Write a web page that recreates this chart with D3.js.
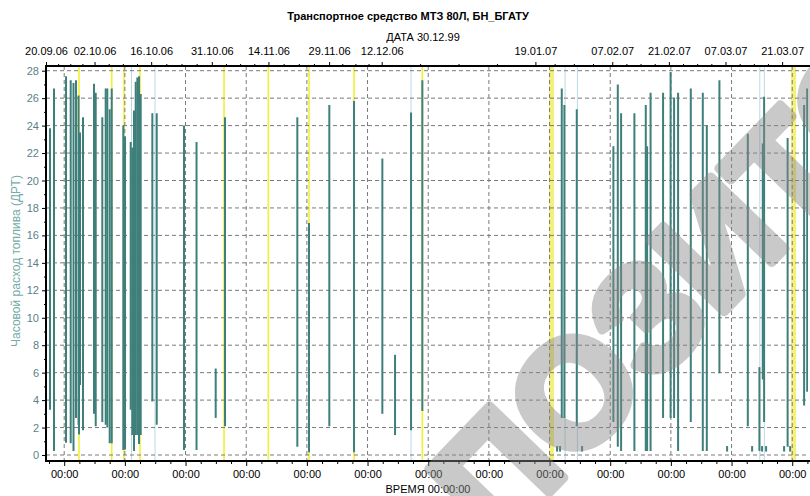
<!DOCTYPE html>
<html>
<head>
<meta charset="utf-8">
<script src="https://cdn.jsdelivr.net/npm/d3@7"></script>
<style>
  body { margin: 0; background: #fff; }
  text { font-family: "Liberation Sans", Arial, sans-serif; }
</style>
</head>
<body>
<div id="chart"></div>
<script>
// ---- data ----
const title = "Транспортное средство МТЗ 80Л, БН_БГАТУ";
const dateCaption = "ДАТА 30.12.99";
const timeCaption = "ВРЕМЯ 00:00:00";
const yTitle = "Часовой расход топлива (ДРТ)";
const watermark = "РЕПОЗИТОРИЙ";

const topDates = ["20.09.06", "02.10.06", "16.10.06", "31.10.06", "14.11.06", "29.11.06",
  "12.12.06", "19.01.07", "07.02.07", "21.02.07", "07.03.07", "21.03.07"];
const bottomTicks = ["24.09.06 12:00", "09.10.06 12:00", "24.10.06 12:00", "08.11.06 12:00",
  "23.11.06 12:00", "08.12.06 12:00", "23.12.06 12:00", "07.01.07 12:00", "22.01.07 12:00",
  "06.02.07 12:00", "21.02.07 12:00", "08.03.07 12:00", "23.03.07 12:00"];
const yTicks = [0, 2, 4, 6, 8, 10, 12, 14, 16, 18, 20, 22, 24, 26, 28];

// fuel-rate bars: time, low value, high value
const barTimes = [
  "20.09.06 23:45", "21.09.06 23:30", "24.09.06 22:50", "26.09.06 02:40", "26.09.06 19:10",
  "27.09.06 10:05", "28.09.06 01:00", "28.09.06 03:50", "28.09.06 09:50", "29.09.06 03:35",
  "01.10.06 20:55", "02.10.06 07:00", "03.10.06 22:05", "04.10.06 18:15", "05.10.06 03:50",
  "05.10.06 18:00", "06.10.06 06:00", "09.10.06 02:40", "09.10.06 13:00", "10.10.06 22:35",
  "11.10.06 08:10", "11.10.06 18:15", "12.10.06 04:20", "12.10.06 13:55", "13.10.06 00:00",
  "13.10.06 10:05", "16.10.06 07:00", "17.10.06 09:00", "24.10.06 03:00", "27.10.06 05:15",
  "31.10.06 23:00", "03.11.06 06:15", "21.11.06 03:20", "24.11.06 00:45", "29.11.06 01:10",
  "05.12.06 03:50", "12.12.06 03:50", "15.12.06 07:10", "19.12.06 06:10", "22.12.06 01:10",
  "25.01.07 12:30", "26.01.07 04:00", "29.01.07 05:30", "07.02.07 06:45", "08.02.07 09:00",
  "09.02.07 04:35", "12.02.07 11:30", "15.02.07 07:00", "15.02.07 15:00", "16.02.07 11:30",
  "19.02.07 13:40", "21.02.07 10:20", "22.02.07 07:00", "23.02.07 06:45", "26.02.07 10:05",
  "01.03.07 09:20", "02.03.07 09:10", "05.03.07 12:00", "12.03.07 12:30", "15.03.07 09:20",
  "16.03.07 05:20", "16.03.07 13:10", "22.03.07 08:40", "26.03.07 10:35", "27.03.07 04:50"];
const barLow = [
  3.3, 0.3, 0.9, 0.85, 0.3, 2.7, 2.2, 1.5, 5.1, 1.8,
  3.0, 2.1, 2.4, 2.2, 2.0, 0.85, 0.85, 0.36, 0.4, 3.3,
  1.45, 0.3, 1.45, 1.45, 0.8, 1.45, 3.9, 2.2, 0.36, 0.36,
  2.7, 2.1, 0.6, 0.2, 2.1, 0.2, 3.0, 1.45, 1.8, 3.2,
  2.7, 2.7, 2.1, 2.4, 0.6, 0.3, 0.3, 0.3, 0.3, 0.3,
  2.7, 2.7, 2.7, 0.3, 2.4, 0.3, 0.3, 5.95, 2.1, 0.3,
  5.5, 2.4, 0.6, 3.6, 4.6];
const barHigh = [
  23.8, 26.7, 27.6, 27.3, 27.1, 27.3, 26.2, 8.4, 23.5, 24.6,
  27.05, 26.4, 24.6, 26.7, 26.7, 25.2, 26.7, 24.0, 23.2, 22.8,
  22.4, 25.1, 27.2, 27.5, 27.6, 26.3, 24.9, 24.9, 24.0, 22.8,
  6.3, 24.6, 24.6, 16.9, 25.5, 25.8, 21.6, 7.3, 24.95, 27.3,
  26.7, 25.5, 25.2, 22.5, 27.0, 24.9, 24.9, 25.5, 22.5, 26.4,
  26.4, 27.9, 26.05, 26.4, 26.7, 26.4, 24.0, 27.3, 23.4, 6.4,
  22.7, 26.1, 23.1, 25.5, 26.7];

// short stubs near zero
const stubTimes = ["24.01.07 08:40", "25.01.07 02:25", "30.01.07 13:00", "07.03.07 09:35",
  "13.03.07 14:00", "16.03.07 01:10", "17.03.07 01:00", "21.03.07 11:45", "22.03.07 23:30"];
const stubLow = [0.25, 0.25, 0.25, 0.25, 0.25, 0.25, 0.25, 0.25, 0.25];
const stubHigh = [0.65, 0.65, 0.65, 0.65, 0.65, 0.65, 0.65, 0.65, 0.65];

// yellow and light-blue event markers
const yellowTimes = ["28.09.06 03:50", "06.10.06 06:00", "09.10.06 07:00", "13.10.06 05:50",
  "03.11.06 00:30", "13.11.06 23:20", "24.11.06 00:45", "05.12.06 03:50", "22.12.06 01:10"];
const yellowWideTimes = ["23.01.07 00:00", "23.03.07 20:10"];
const blueTimes = ["11.10.06 03:20", "16.10.06 22:50", "19.12.06 06:10", "26.01.07 08:10",
  "29.01.07 09:10", "15.03.07 11:30", "16.03.07 14:25"];

// ---- chart ----
const width = 810, height = 496;
const plot = { left: 46, right: 808, top: 66, bottom: 461 };

const parseT = d3.utcParse("%d.%m.%y %H:%M");
const parseD = d3.utcParse("%d.%m.%y");
const fmtD = d3.utcFormat("%d.%m.%y");

const svg = d3.select("#chart").append("svg")
  .attr("width", width)
  .attr("height", height)
  .style("display", "block");

svg.append("rect").attr("width", width).attr("height", height).attr("fill", "#fff");

const x = d3.scaleUtc()
  .domain([parseT("20.09.06 00:00"), parseT("27.03.07 09:36")])
  .range([plot.left, plot.right]);

const y = d3.scaleLinear()
  .domain([0, 28])
  .range([455, 70.7]);

svg.append("clipPath").attr("id", "clip")
  .append("rect")
  .attr("x", plot.left).attr("y", plot.top)
  .attr("width", plot.right - plot.left).attr("height", plot.bottom - plot.top);

const area = svg.append("g").attr("clip-path", "url(#clip)");

// event markers behind everything
area.selectAll(".ywide").data(yellowWideTimes).enter().append("line")
  .attr("x1", d => x(parseT(d))).attr("x2", d => x(parseT(d)))
  .attr("y1", plot.top).attr("y2", plot.bottom)
  .attr("stroke", "#f4f07c").attr("stroke-width", 5);

area.selectAll(".yel").data(yellowTimes).enter().append("line")
  .attr("x1", d => x(parseT(d))).attr("x2", d => x(parseT(d)))
  .attr("y1", plot.top).attr("y2", plot.bottom)
  .attr("stroke", "#f2f032").attr("stroke-width", 1.6);

area.selectAll(".blue").data(blueTimes).enter().append("line")
  .attr("x1", d => x(parseT(d))).attr("x2", d => x(parseT(d)))
  .attr("y1", plot.top).attr("y2", plot.bottom)
  .attr("stroke", "#bcd8e6").attr("stroke-width", 1);

// grid
const bTicks = bottomTicks.map(parseT);
area.selectAll(".hgrid").data(yTicks).enter().append("line")
  .attr("x1", plot.left).attr("x2", plot.right)
  .attr("y1", d => y(d)).attr("y2", d => y(d))
  .attr("stroke", "#7a7a7a").attr("stroke-dasharray", "4,3");

area.selectAll(".vgrid").data(bTicks).enter().append("line")
  .attr("x1", d => x(d)).attr("x2", d => x(d))
  .attr("y1", plot.top).attr("y2", plot.bottom)
  .attr("stroke", "#7a7a7a").attr("stroke-dasharray", "4,3");

// bars
const bars = barTimes.map((t, i) => ({ t: parseT(t), lo: barLow[i], hi: barHigh[i] }));
area.selectAll(".bar").data(bars).enter().append("line")
  .attr("class", "bar")
  .attr("x1", d => x(d.t)).attr("x2", d => x(d.t))
  .attr("y1", d => y(d.lo)).attr("y2", d => y(d.hi))
  .attr("stroke", "#3e7f7a").attr("stroke-width", 2);

const stubs = stubTimes.map((t, i) => ({ t: parseT(t), lo: stubLow[i], hi: stubHigh[i] }));
area.selectAll(".stub").data(stubs).enter().append("line")
  .attr("x1", d => x(d.t)).attr("x2", d => x(d.t))
  .attr("y1", d => y(d.lo)).attr("y2", d => y(d.hi))
  .attr("stroke", "#3e7f7a").attr("stroke-width", 2);

// axes
const yAxis = svg.append("g")
  .attr("transform", `translate(${plot.left},0)`)
  .call(d3.axisLeft(y).tickValues(yTicks).tickSize(4).tickPadding(3));
yAxis.select(".domain").remove();
yAxis.selectAll("text").attr("fill", "#5b7f8c").style("font-size", "11px");

const yMinor = svg.append("g")
  .attr("transform", `translate(${plot.left},0)`)
  .call(d3.axisLeft(y).tickValues(d3.range(1, 28, 2)).tickSize(2).tickFormat(""));
yMinor.select(".domain").remove();

const bAxis = svg.append("g")
  .attr("transform", `translate(0,${plot.bottom})`)
  .call(d3.axisBottom(x).tickValues(bTicks).tickSize(5).tickPadding(4).tickFormat(() => "00:00"));
bAxis.select(".domain").remove();
bAxis.selectAll("text").style("font-size", "11px").attr("fill", "#000");

const bMinorVals = [];
const step = bTicks[1] - bTicks[0];
for (let k = -1; k < bTicks.length; k++) {
  for (let j = 1; j < 4; j++) {
    const v = new Date(+bTicks[0] + k * step + j * step / 4);
    if (x(v) > plot.left && x(v) < plot.right) bMinorVals.push(v);
  }
}
const bMinor = svg.append("g")
  .attr("transform", `translate(0,${plot.bottom})`)
  .call(d3.axisBottom(x).tickValues(bMinorVals).tickSize(3).tickFormat(""));
bMinor.select(".domain").remove();

const tDates = topDates.map(parseD);
const tAxis = svg.append("g")
  .attr("transform", `translate(0,${plot.top})`)
  .call(d3.axisTop(x).tickValues(tDates).tickSize(4).tickPadding(7).tickFormat(fmtD));
tAxis.select(".domain").remove();
tAxis.selectAll("text").style("font-size", "11px").attr("fill", "#000");

const tMinorVals = [];
for (let i = 0; i < tDates.length - 1; i++) {
  for (let j = 1; j < 4; j++) {
    tMinorVals.push(new Date(+tDates[i] + (tDates[i + 1] - tDates[i]) * j / 4));
  }
}
const tMinor = svg.append("g")
  .attr("transform", `translate(0,${plot.top})`)
  .call(d3.axisTop(x).tickValues(tMinorVals).tickSize(2).tickFormat(""));
tMinor.select(".domain").remove();

// frame
svg.append("line").attr("x1", plot.left).attr("x2", plot.right + 2)
  .attr("y1", plot.top).attr("y2", plot.top).attr("stroke", "#000").attr("stroke-width", 2);
svg.append("line").attr("x1", plot.left).attr("x2", plot.right + 2)
  .attr("y1", plot.bottom).attr("y2", plot.bottom).attr("stroke", "#000").attr("stroke-width", 2);
svg.append("line").attr("x1", plot.left).attr("x2", plot.left)
  .attr("y1", plot.top - 1).attr("y2", plot.bottom + 1).attr("stroke", "#000").attr("stroke-width", 2);

// texts
svg.append("text").attr("x", 408).attr("y", 20).attr("text-anchor", "middle")
  .style("font-size", "11px").style("font-weight", "bold").text(title);
svg.append("text").attr("x", 423).attr("y", 41).attr("text-anchor", "middle")
  .style("font-size", "11px").text(dateCaption);
svg.append("text").attr("x", 428).attr("y", 493).attr("text-anchor", "middle")
  .style("font-size", "11px").text(timeCaption);
svg.append("text")
  .attr("transform", "translate(20,261) rotate(-90)")
  .attr("text-anchor", "middle")
  .attr("fill", "#74aaa8")
  .style("font-size", "12px")
  .text(yTitle);

// watermark (the word runs off both edges; only the middle letters show)
const wm = svg.append("g")
  .attr("transform", "translate(496,548) rotate(-46)")
  .attr("opacity", 0.45)
  .style("font-size", "150px").style("font-weight", "bold");
wm.append("text")
  .attr("x", 0)
  .attr("fill", "#888").attr("stroke", "#888").attr("stroke-width", 9)
  .attr("stroke-linejoin", "round")
  .text(watermark.slice(2));
</script>
</body>
</html>
